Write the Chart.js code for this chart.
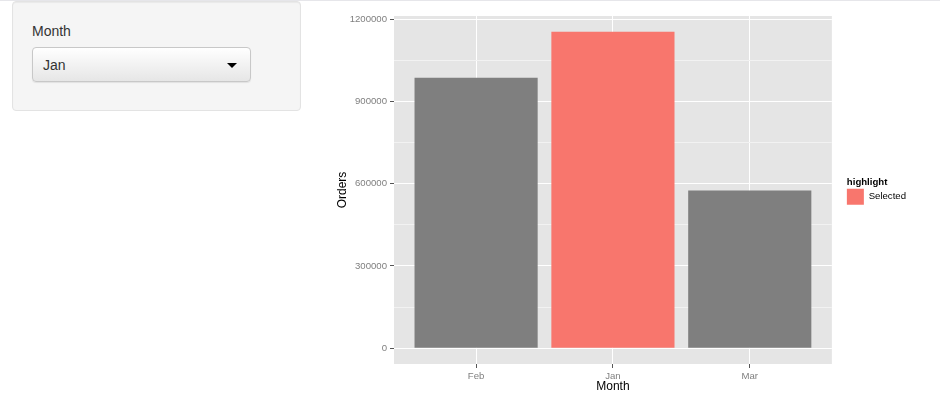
<!DOCTYPE html>
<html>
<head>
<meta charset="utf-8">
<script src="https://cdn.jsdelivr.net/npm/chart.js@4"></script>
<style>
  html, body { margin: 0; padding: 0; background: #fff; }
  body { width: 940px; height: 399px; position: relative; overflow: hidden;
         font-family: "Liberation Sans", Arial, sans-serif; color: #333; }
  .topline { position: absolute; left: 0; top: 0; width: 940px; height: 1px; background: #e6e6ea; }
  .well { position: absolute; left: 12px; top: 1px; width: 287px; height: 108px;
          background: #f5f5f5; border: 1px solid #e3e3e3; border-radius: 4px;
          box-shadow: inset 0 1px 1px rgba(0,0,0,0.05); }
  .well label { position: absolute; left: 19px; top: 19px; font-size: 14px; line-height: 20px; }
  .select { position: absolute; left: 19px; top: 45px; width: 217px; height: 33px;
            border: 1px solid #c8c8c8; border-radius: 4px;
            background: linear-gradient(#ffffff, #e6e6e6); box-shadow: 0 1px 1px rgba(0,0,0,0.08); }
  .select span { position: absolute; left: 10px; top: 7px; font-size: 14px; line-height: 20px; color: #333; }
  .caret { position: absolute; left: 194px; top: 15px; width: 0; height: 0;
           border-left: 5px solid transparent; border-right: 5px solid transparent; border-top: 5px solid #000; }
  #plot { position: absolute; left: 320px; top: 0; width: 620px; height: 399px; }
</style>
</head>
<body>
<div class="topline"></div>
<div class="well">
  <label>Month</label>
  <div class="select"><span>Jan</span><div class="caret"></div></div>
</div>
<div id="plot"><canvas id="chart"></canvas></div>
<script>
const months = ['Feb', 'Jan', 'Mar'];
const orders = [986000, 1154000, 575000];
const selectedMonth = 'Jan';
const yMajorTicks = [0, 300000, 600000, 900000, 1200000];
const yGridTicks = [0, 150000, 300000, 450000, 600000, 750000, 900000, 1050000, 1200000];

const selectedColor = '#F8766D';
const otherColor = '#7F7F7F';

// ggplot-style 5% expansion on the continuous axis, 0.6 on the discrete one
const yMax = Math.max(...orders);
const yPad = yMax * 0.05;

Chart.defaults.font.family = '"Liberation Sans", Arial, sans-serif';

const panelBg = {
  id: 'panelBg',
  beforeDraw(chart) {
    const a = chart.chartArea;
    const ctx = chart.ctx;
    ctx.save();
    ctx.fillStyle = '#E5E5E5';
    ctx.fillRect(a.left, a.top, a.right - a.left, a.bottom - a.top);
    ctx.restore();
  }
};

// legend title drawn in line with the legend keys, like ggplot
const legendTitle = {
  id: 'legendTitle',
  afterDraw(chart) {
    const box = chart.legend.legendHitBoxes[0];
    if (!box) return;
    const ctx = chart.ctx;
    ctx.save();
    ctx.fillStyle = '#000';
    ctx.font = 'bold 9.6px "Liberation Sans", Arial, sans-serif';
    ctx.textBaseline = 'alphabetic';
    ctx.textAlign = 'left';
    ctx.fillText('highlight', box.left, box.top - 4);
    ctx.restore();
  }
};

function isMajor(v) {
  return yMajorTicks.includes(v);
}

new Chart(document.getElementById('chart'), {
  type: 'bar',
  data: {
    datasets: [{
      label: 'highlight',
      data: months.map((m, i) => ({ x: i + 1, y: orders[i] })),
      backgroundColor: months.map(m => m === selectedMonth ? selectedColor : otherColor),
      borderWidth: 0,
      barPercentage: 0.9,
      categoryPercentage: 1.0
    }]
  },
  options: {
    responsive: true,
    maintainAspectRatio: false,
    animation: false,
    layout: { padding: { top: 16, left: 0, right: 24, bottom: 0 } },
    plugins: {
      tooltip: { enabled: false },
      legend: {
        position: 'right',
        fullSize: false,
        title: {
          display: true,
          text: 'highlight',
          color: 'rgba(0,0,0,0)',
          font: { size: 9.6, weight: 'bold' },
          padding: { top: 0, bottom: 2 }
        },
        labels: {
          boxWidth: 17,
          boxHeight: 16,
          padding: 15,
          color: '#000',
          font: { size: 9.6 },
          generateLabels: () => [{
            text: 'Selected',
            fillStyle: selectedColor,
            strokeStyle: selectedColor,
            fontColor: '#000',
            lineWidth: 0,
            hidden: false,
            datasetIndex: 0
          }]
        }
      }
    },
    scales: {
      x: {
        type: 'linear',
        min: 0.4,
        max: months.length + 0.6,
        offset: false,
        border: { display: false },
        grid: {
          offset: false,
          color: '#FFFFFF',
          lineWidth: 1,
          tickColor: '#555',
          tickLength: 4
        },
        ticks: {
          stepSize: 1,
          includeBounds: false,
          padding: 3,
          color: '#7F7F7F',
          font: { size: 9.6 },
          callback: v => months[v - 1]
        },
        title: {
          display: true,
          text: 'Month',
          color: '#000',
          font: { size: 12 },
          padding: { top: 0, bottom: 5 }
        },
        afterFit(scale) { scale.height = 35; }
      },
      y: {
        min: -yPad,
        max: yMax + yPad,
        border: { display: false },
        afterBuildTicks(scale) {
          scale.ticks = yGridTicks.map(v => ({ value: v }));
        },
        grid: {
          color: ctx => isMajor(ctx.tick.value) ? '#FFFFFF' : '#F2F2F2',
          tickColor: ctx => isMajor(ctx.tick.value) ? '#555' : 'rgba(0,0,0,0)',
          lineWidth: 1,
          tickLength: 4
        },
        ticks: {
          autoSkip: false,
          padding: 3,
          color: '#7F7F7F',
          font: { size: 9.6 },
          callback: v => isMajor(v) ? String(v) : ''
        },
        title: {
          display: true,
          text: 'Orders',
          color: '#000',
          font: { size: 12 },
          padding: { top: 15, bottom: 0 }
        },
        afterFit(scale) { scale.width = 74; }
      }
    }
  },
  plugins: [panelBg, legendTitle]
});
</script>
</body>
</html>
